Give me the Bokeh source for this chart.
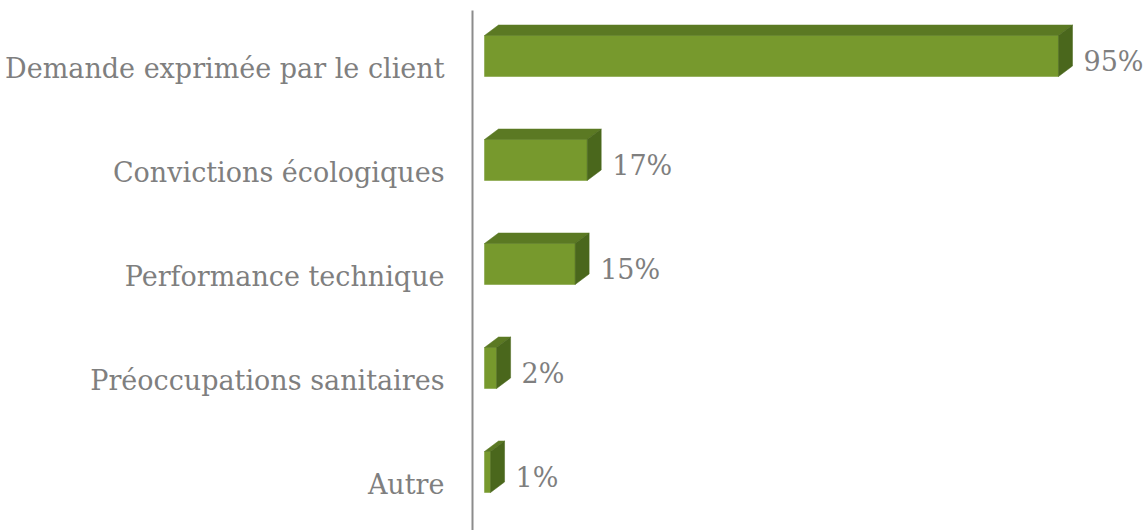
from bokeh.plotting import figure
from bokeh.models import ColumnDataSource, FixedTicker, Range1d
from bokeh.core.properties import value
from bokeh.embed import file_html
from bokeh.resources import INLINE

# ---- data ----
categories = ["Demande exprimée par le client", "Convictions écologiques",
              "Performance technique", "Préoccupations sanitaires", "Autre"]
values = [95, 17, 15, 2, 1]
value_labels = ["95%", "17%", "15%", "2%", "1%"]

# ---- layout constants ----
W, H = 1147, 530
FRAME_LEFT = 472
FRAME_W = W - FRAME_LEFT
FRAME_TOP = 10
FRAME_H = H - FRAME_TOP
PX_X = 6.042       # px per percent
PX_Y = 104.0       # px per category
x_start = -12 / PX_X
x_end = x_start + FRAME_W / PX_X
n = len(categories)
ypos = [n - 1 - i for i in range(n)]
y_top = (n - 1) + 58 / PX_Y
y_bot = y_top - FRAME_H / PX_Y

dx = 14 / PX_X
dy = 10.5 / PX_Y
fb = -8 / PX_Y   # front bottom offset
ft = 33 / PX_Y   # front top offset

front = dict(left=[], right=[], bottom=[], top=[])
top_xs, top_ys, side_xs, side_ys = [], [], [], []
for v, c in zip(values, ypos):
    yb, yt = c + fb, c + ft
    front["left"].append(0); front["right"].append(v)
    front["bottom"].append(yb); front["top"].append(yt)
    top_xs.append([0, v, v + dx, dx]); top_ys.append([yt, yt, yt + dy, yt + dy])
    side_xs.append([v, v + dx, v + dx, v]); side_ys.append([yb, yb + dy, yt + dy, yt])

p = figure(width=W, height=H, output_backend="svg", toolbar_location=None,
           x_range=Range1d(x_start, x_end), y_range=Range1d(y_bot, y_top),
           min_border_left=FRAME_LEFT, min_border_right=0,
           min_border_top=FRAME_TOP, min_border_bottom=0,
           x_axis_location=None)
p.outline_line_color = None
p.xgrid.visible = False
p.ygrid.visible = False
p.background_fill_color = "white"
p.border_fill_color = "white"

p.quad(source=ColumnDataSource(front), left="left", right="right", bottom="bottom", top="top",
       fill_color="#77992d", line_color="#77992d", line_width=0.5)
p.patches(top_xs, top_ys, fill_color="#5b7923", line_color="#5b7923", line_width=0.5)
p.patches(side_xs, side_ys, fill_color="#4a671c", line_color="#4a671c", line_width=0.5)

p.text(x=values, y=ypos, text=value_labels, x_offset=25, y_offset=-7,
       text_font=value("DejaVu Serif"), text_font_size="27px", text_color="#7f7f7f",
       text_align="left", text_baseline="middle")

yax = p.yaxis[0]
yax.ticker = FixedTicker(ticks=ypos)
yax.major_label_overrides = {c: cat for c, cat in zip(ypos, categories)}
yax.major_tick_line_color = None
yax.minor_tick_line_color = None
yax.major_tick_out = 0
yax.major_tick_in = 0
yax.major_label_standoff = 28
yax.axis_line_color = "#8c8c8c"
yax.axis_line_width = 2
yax.major_label_text_font = "DejaVu Serif"
yax.major_label_text_font_size = "27px"
yax.major_label_text_color = "#7f7f7f"

open("out.html", "w").write(file_html(p, INLINE))
